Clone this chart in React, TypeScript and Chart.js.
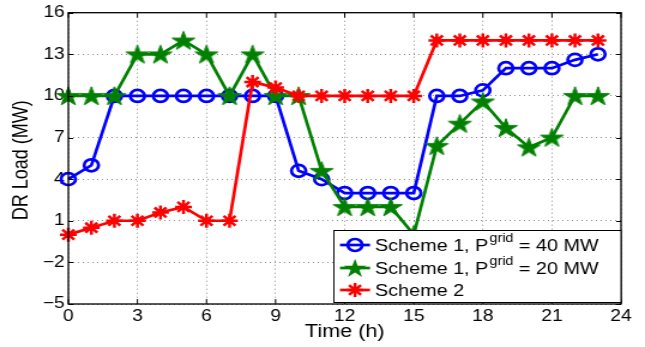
import React, { useEffect, useRef } from 'react';
import { Chart, registerables } from 'chart.js';

Chart.register(...registerables);

const hours = [0, 1, 2, 3, 4, 5, 6, 7, 8, 9, 10, 11, 12, 13, 14, 15, 16, 17, 18, 19, 20, 21, 22, 23];
const scheme1Grid40 = [4, 5, 10, 10, 10, 10, 10, 10, 10, 10, 4.6, 4, 3, 3, 3, 3, 10, 10, 10.4, 12, 12, 12, 12.6, 13];
const scheme1Grid20 = [10, 10, 10, 13, 13, 14, 13, 10, 13, 10, 10, 4.6, 2, 2, 2, 0, 6.4, 8, 9.6, 7.7, 6.3, 7, 10, 10];
const scheme2 = [0, 0.5, 1, 1, 1.6, 2, 1, 1, 11, 10.6, 10, 10, 10, 10, 10, 10, 14, 14, 14, 14, 14, 14, 14, 14];

const xTickValues = [0, 3, 6, 9, 12, 15, 18, 21, 24];
const yTickValues = [-5, -2, 1, 4, 7, 10, 13, 16];

const seriesNames = ['Scheme 1, P', 'Scheme 1, P', 'Scheme 2'];
const seriesSups = ['grid', 'grid', ''];
const seriesTails = [' = 40 MW', ' = 20 MW', ''];
const seriesColors = ['#0000ff', '#008000', '#ff0000'];

const xTitle = 'Time (h)';
const yTitle = 'DR Load (MW)';

const FONT = '"Liberation Sans", Arial, Helvetica, sans-serif';

// The reference figure is horizontally stretched; render at a narrower
// internal width and let CSS stretch it to the 645px display width.
const DISPLAY_W = 645;
const DISPLAY_H = 347;
const INNER_W = 538;
const SX = INNER_W / DISPLAY_W;

function pentagramPath(ctx: CanvasRenderingContext2D, cx: number, cy: number, R: number) {
  const r = R * 0.382;
  ctx.beginPath();
  for (let i = 0; i < 10; i++) {
    const rad = i % 2 === 0 ? R : r;
    const a = -Math.PI / 2 + (i * Math.PI) / 5;
    const x = cx + rad * Math.cos(a);
    const y = cy + rad * Math.sin(a);
    if (i === 0) ctx.moveTo(x, y);
    else ctx.lineTo(x, y);
  }
  ctx.closePath();
}

function makeStarImage(color: string, R: number) {
  const size = Math.ceil(R * 2 + 4);
  const c = document.createElement('canvas');
  c.width = size;
  c.height = size;
  const ctx = c.getContext('2d')!;
  pentagramPath(ctx, size / 2, size / 2 + 0.8, R);
  ctx.fillStyle = color;
  ctx.fill();
  ctx.lineWidth = 1;
  ctx.strokeStyle = color;
  ctx.stroke();
  return c;
}

function drawAsterisk(ctx: CanvasRenderingContext2D, cx: number, cy: number, r: number) {
  ctx.beginPath();
  ctx.moveTo(cx - r, cy);
  ctx.lineTo(cx + r, cy);
  ctx.moveTo(cx, cy - r);
  ctx.lineTo(cx, cy + r);
  const d = r * Math.SQRT1_2;
  ctx.moveTo(cx - d, cy - d);
  ctx.lineTo(cx + d, cy + d);
  ctx.moveTo(cx - d, cy + d);
  ctx.lineTo(cx + d, cy - d);
  ctx.stroke();
}

const framePlugin = {
  id: 'matlabFrame',
  afterDraw(chart: any) {
    const { ctx, chartArea } = chart;
    const { left, right, top, bottom } = chartArea;
    const xs = chart.scales.x;
    const ys = chart.scales.y;
    ctx.save();
    // box
    ctx.strokeStyle = '#000';
    ctx.lineWidth = 1.3;
    ctx.strokeRect(left, top, right - left, bottom - top);
    // inward ticks
    ctx.lineWidth = 1;
    ctx.beginPath();
    xTickValues.forEach((v) => {
      const px = xs.getPixelForValue(v);
      ctx.moveTo(px, bottom);
      ctx.lineTo(px, bottom - 5);
      ctx.moveTo(px, top);
      ctx.lineTo(px, top + 5);
    });
    yTickValues.forEach((v) => {
      const py = Math.round(ys.getPixelForValue(v)) + 0.5;
      ctx.moveTo(left, py);
      ctx.lineTo(left + 4, py);
      ctx.moveTo(right, py);
      ctx.lineTo(right - 4, py);
    });
    ctx.stroke();

    // axis titles
    ctx.fillStyle = '#000';
    ctx.font = `18px ${FONT}`;
    ctx.textAlign = 'center';
    ctx.textBaseline = 'middle';
    ctx.fillText(xTitle, (left + right) / 2, 332);
    ctx.save();
    ctx.translate(22 * SX, (top + bottom) / 2 + 2);
    ctx.rotate(-Math.PI / 2);
    ctx.fillText(yTitle, 0, 0);
    ctx.restore();

    // legend
    const bx = Math.round(333 * SX) + 0.5;
    const by = 230.5;
    const bw = right - bx;
    const bh = 72;
    ctx.fillStyle = '#fff';
    ctx.fillRect(bx, by, bw, bh);
    ctx.strokeStyle = '#000';
    ctx.lineWidth = 1;
    ctx.strokeRect(bx, by, bw, bh);
    const rowsY = [245, 268, 290];
    const lx0 = 340 * SX;
    const lx1 = 370 * SX;
    const mx = 355 * SX;
    for (let i = 0; i < 3; i++) {
      const y = rowsY[i];
      const color = seriesColors[i];
      ctx.strokeStyle = color;
      ctx.lineWidth = 2.7;
      ctx.beginPath();
      ctx.moveTo(lx0, y);
      ctx.lineTo(lx1, y);
      ctx.stroke();
      if (i === 0) {
        ctx.beginPath();
        ctx.arc(mx, y, 6, 0, Math.PI * 2);
        ctx.stroke();
      } else if (i === 1) {
        pentagramPath(ctx, mx, y + 0.8, 10);
        ctx.fillStyle = color;
        ctx.fill();
      } else {
        ctx.lineWidth = 2.5;
        drawAsterisk(ctx, mx, y, 7);
      }
      ctx.fillStyle = '#000';
      ctx.textAlign = 'left';
      ctx.textBaseline = 'middle';
      ctx.font = `16.5px ${FONT}`;
      let tx = 375 * SX;
      ctx.fillText(seriesNames[i], tx, y + 1);
      tx += ctx.measureText(seriesNames[i]).width;
      if (seriesSups[i]) {
        ctx.font = `12px ${FONT}`;
        ctx.fillText(seriesSups[i], tx + 1, y - 6);
        tx += ctx.measureText(seriesSups[i]).width + 1;
        ctx.font = `16.5px ${FONT}`;
        ctx.fillText(seriesTails[i], tx, y + 1);
      }
    }
    ctx.restore();
  },
};

function zeroPad(s: any) {
  s.paddingTop = 0;
  s.paddingBottom = 0;
  s.paddingLeft = 0;
  s.paddingRight = 0;
}

export default function App() {
  const canvasRef = useRef<HTMLCanvasElement | null>(null);

  useEffect(() => {
    if (!canvasRef.current) return;
    const starImg = makeStarImage('#008000', 10);
    const toPts = (arr: number[]) => hours.map((h, i) => ({ x: h, y: arr[i] }));
    const chart = new Chart(canvasRef.current, {
      type: 'line',
      data: {
        datasets: [
          {
            label: 'Scheme 1, Pgrid = 40 MW',
            data: toPts(scheme1Grid40),
            borderColor: seriesColors[0],
            backgroundColor: 'rgba(0,0,0,0)',
            borderWidth: 2.7,
            pointStyle: 'circle',
            pointRadius: 6,
            pointBorderWidth: 2.7,
            pointBorderColor: seriesColors[0],
            pointBackgroundColor: 'rgba(0,0,0,0)',
            tension: 0,
            clip: false as any,
            order: 3,
          },
          {
            label: 'Scheme 1, Pgrid = 20 MW',
            data: toPts(scheme1Grid20),
            borderColor: seriesColors[1],
            backgroundColor: seriesColors[1],
            borderWidth: 2.7,
            pointStyle: starImg as any,
            pointRadius: 10,
            tension: 0,
            clip: false as any,
            order: 2,
          },
          {
            label: 'Scheme 2',
            data: toPts(scheme2),
            borderColor: seriesColors[2],
            backgroundColor: seriesColors[2],
            borderWidth: 2.7,
            pointStyle: 'star',
            pointRadius: 7,
            pointBorderWidth: 2.5,
            pointBorderColor: seriesColors[2],
            tension: 0,
            clip: false as any,
            order: 1,
          },
        ],
      },
      options: {
        animation: false,
        responsive: false,
        devicePixelRatio: 1,
        layout: { padding: { top: 10.5, right: INNER_W - Math.round(621 * SX), left: 0, bottom: 0 } },
        plugins: { legend: { display: false }, tooltip: { enabled: false } },
        events: [],
        scales: {
          x: {
            type: 'linear',
            min: 0,
            max: 24,
            afterBuildTicks: (s: any) => {
              s.ticks = xTickValues.map((v) => ({ value: v }));
            },
            afterFit: (s: any) => {
              s.height = DISPLAY_H - 304;
              zeroPad(s);
            },
            grid: {
              color: 'rgba(0,0,0,0.45)',
              lineWidth: 1,
              drawTicks: false,
            },
            border: { display: false, dash: [1, 3] } as any,
            ticks: {
              color: '#000',
              padding: 3,
              maxRotation: 0,
              autoSkip: false,
              font: { family: FONT, size: 16 },
              callback: (v: any) => String(v),
            },
          },
          y: {
            type: 'linear',
            min: -5,
            max: 16,
            afterBuildTicks: (s: any) => {
              s.ticks = yTickValues.map((v) => ({ value: v }));
            },
            afterFit: (s: any) => {
              s.width = Math.round(68 * SX);
              zeroPad(s);
            },
            grid: {
              color: 'rgba(0,0,0,0.45)',
              lineWidth: 1,
              drawTicks: false,
            },
            border: { display: false, dash: [1, 3] } as any,
            ticks: {
              color: '#000',
              padding: 3,
              autoSkip: false,
              font: { family: FONT, size: 16 },
              callback: (v: any) => (Number(v) < 0 ? '\u2212' + Math.abs(Number(v)) : String(v)),
            },
          },
        },
      },
      plugins: [framePlugin as any],
    });
    return () => chart.destroy();
  }, []);

  return (
    <div style={{ position: 'fixed', left: 0, top: 0, width: DISPLAY_W, height: DISPLAY_H, background: '#fff' }}>
      <canvas
        ref={canvasRef}
        width={INNER_W}
        height={DISPLAY_H}
        style={{ display: 'block', width: DISPLAY_W + 'px', height: DISPLAY_H + 'px' }}
      />
    </div>
  );
}
